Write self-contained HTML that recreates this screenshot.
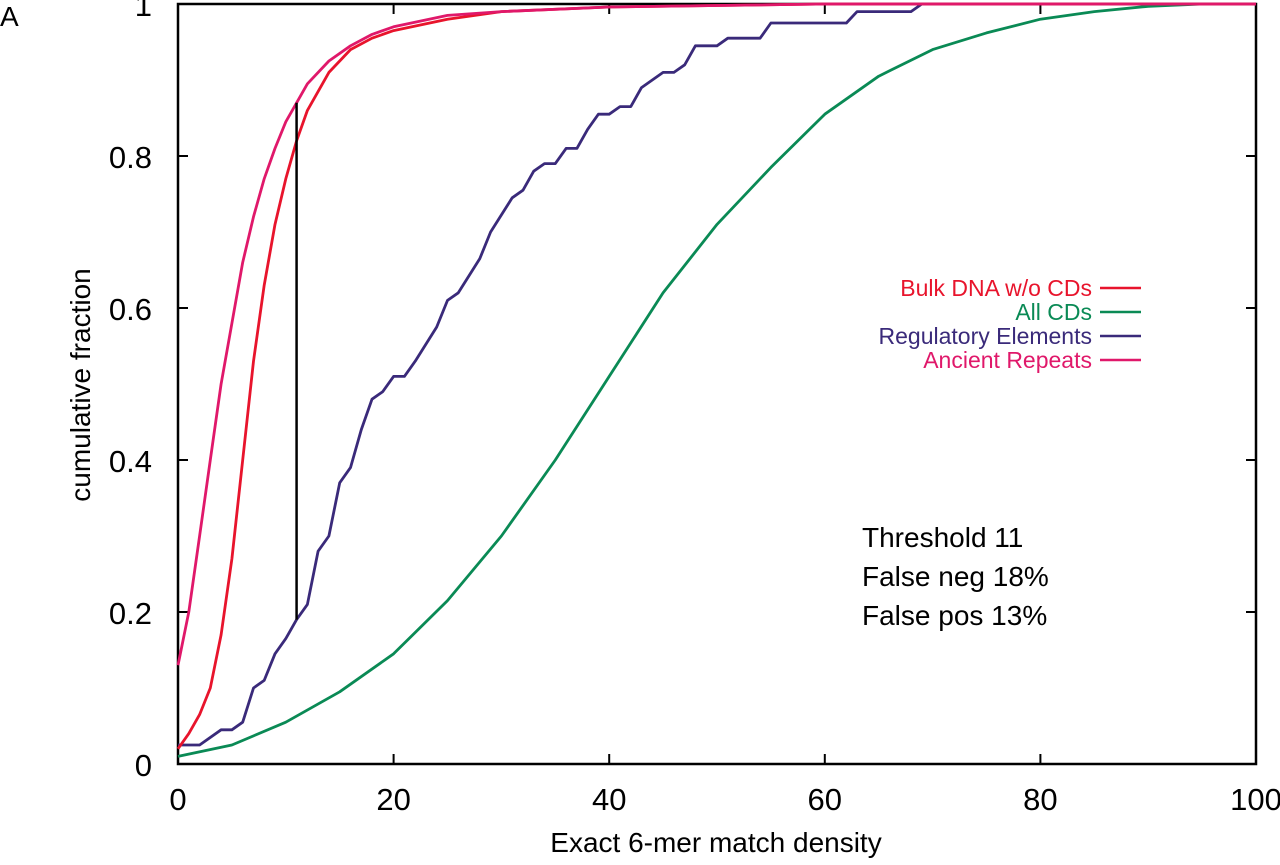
<!DOCTYPE html>
<html><head><meta charset="utf-8"><style>
body{margin:0;background:#fff;}
svg text{font-family:"Liberation Sans",sans-serif;}
</style></head><body>
<svg id="c" width="1280" height="860"></svg>
<script>
const xTicks=[0,20,40,60,80,100];
const yTicks=[0,0.2,0.4,0.6,0.8,1];
const yTickLabels=["0","0.2","0.4","0.6","0.8","1"];
const ancientX=[0,1,2,3,4,5,6,7,8,9,10,11,12,14,16,18,20,25,30,40,60,100];
const ancientY=[0.13,0.2,0.3,0.4,0.5,0.58,0.66,0.72,0.77,0.81,0.845,0.87,0.895,0.925,0.945,0.96,0.97,0.985,0.99,0.996,1,1];
const bulkX=[0,1,2,3,4,5,6,7,8,9,10,11,12,14,16,18,20,25,30,40,60,100];
const bulkY=[0.02,0.04,0.065,0.1,0.17,0.27,0.4,0.53,0.63,0.71,0.77,0.82,0.86,0.91,0.94,0.955,0.965,0.98,0.99,0.996,1,1];
const cdsX=[0,5,10,15,20,25,30,35,40,45,50,55,60,65,70,75,80,85,90,95,100];
const cdsY=[0.01,0.025,0.055,0.095,0.145,0.215,0.3,0.4,0.51,0.62,0.71,0.785,0.855,0.905,0.94,0.962,0.98,0.99,0.997,1,1];
const regX=[0,2,4,5,6,7,8,9,10,11,12,13,14,15,16,17,18,19,20,21,22,24,25,26,28,29,31,32,33,34,35,36,37,38,39,40,41,42,43,45,46,47,48,50,51,54,55,62,63,68,69,100];
const regY=[0.025,0.025,0.045,0.045,0.055,0.1,0.11,0.145,0.165,0.19,0.21,0.28,0.3,0.37,0.39,0.44,0.48,0.49,0.51,0.51,0.53,0.575,0.61,0.62,0.665,0.7,0.745,0.755,0.78,0.79,0.79,0.81,0.81,0.835,0.855,0.855,0.865,0.865,0.89,0.91,0.91,0.92,0.945,0.945,0.955,0.955,0.975,0.975,0.99,0.99,1,1];
const threshold=11, threshLo=0.19, threshHi=0.87;

const X0=178,X1=1256,Y0=764,Y1=4;
const sx=v=>X0+(X1-X0)*v/100, sy=v=>Y0-(Y0-Y1)*v;
const svg=document.getElementById('c'),NS="http://www.w3.org/2000/svg";
function el(t,a,txt){const e=document.createElementNS(NS,t);for(const k in a)e.setAttribute(k,a[k]);if(txt!==undefined)e.textContent=txt;svg.appendChild(e);return e;}
function path(xs,ys,color,name){
 const d=xs.map((x,i)=>(i?'L':'M')+sx(x).toFixed(1)+','+sy(ys[i]).toFixed(1)).join('');
 const p=el('path',{d:d,fill:'none',stroke:color,'stroke-width':2.8,'stroke-linejoin':'round'});
 
 
}
const fr=el('rect',{x:X0,y:Y1,width:X1-X0,height:Y0-Y1,fill:'none',stroke:'#000','stroke-width':2.5});


xTicks.forEach(v=>{
 const a=el('line',{x1:sx(v),x2:sx(v),y1:Y0,y2:Y0-10,stroke:'#000','stroke-width':2});
 
 
 el('line',{x1:sx(v),x2:sx(v),y1:Y1,y2:Y1+10,stroke:'#000','stroke-width':2});
 const t=el('text',{x:sx(v),y:810,'font-size':31,'text-anchor':'middle'},String(v));
 
 
});
yTicks.forEach((v,i)=>{
 const a=el('line',{x1:X0,x2:X0+10,y1:sy(v),y2:sy(v),stroke:'#000','stroke-width':2});
 
 
 el('line',{x1:X1,x2:X1-10,y1:sy(v),y2:sy(v),stroke:'#000','stroke-width':2});
 const t=el('text',{x:152,y:sy(v)+12,'font-size':31,'text-anchor':'end'},yTickLabels[i]);
 
 
});
path(cdsX,cdsY,'#0a8a55','series-all-cds');
path(regX,regY,'#3a2a7a','series-regulatory-elements');
path(bulkX,bulkY,'#e8142c','series-bulk-dna');
path(ancientX,ancientY,'#e0186a','series-ancient-repeats');
const th=el('line',{x1:sx(threshold),x2:sx(threshold),y1:sy(threshLo),y2:sy(threshHi),stroke:'#000','stroke-width':2.5});


const xt=el('text',{x:716,y:852,'font-size':28,'text-anchor':'middle'},'Exact 6-mer match density');


const yt=el('text',{x:0,y:0,'font-size':28,'text-anchor':'middle',transform:'translate(90,385) rotate(-90)'},'cumulative fraction');


const pl=el('text',{x:0,y:26,'font-size':28},'A');


const leg=[['Bulk DNA w/o CDs','#e8142c'],['All CDs','#0a8a55'],['Regulatory Elements','#3a2a7a'],['Ancient Repeats','#e0186a']];
leg.forEach((l,i)=>{
 const y=296+i*24;
 const t=el('text',{x:1092,y:y,'font-size':23,'text-anchor':'end',fill:l[1]},l[0]);
 
 
 el('line',{x1:1100,x2:1141,y1:y-8,y2:y-8,stroke:l[1],'stroke-width':2.5});
});
['Threshold 11','False neg 18%','False pos  13%'].forEach((s,i)=>{
 const t=el('text',{x:862,y:547+i*39,'font-size':28,'xml:space':'preserve'},s);
 
 
});
</script>
</body></html>
